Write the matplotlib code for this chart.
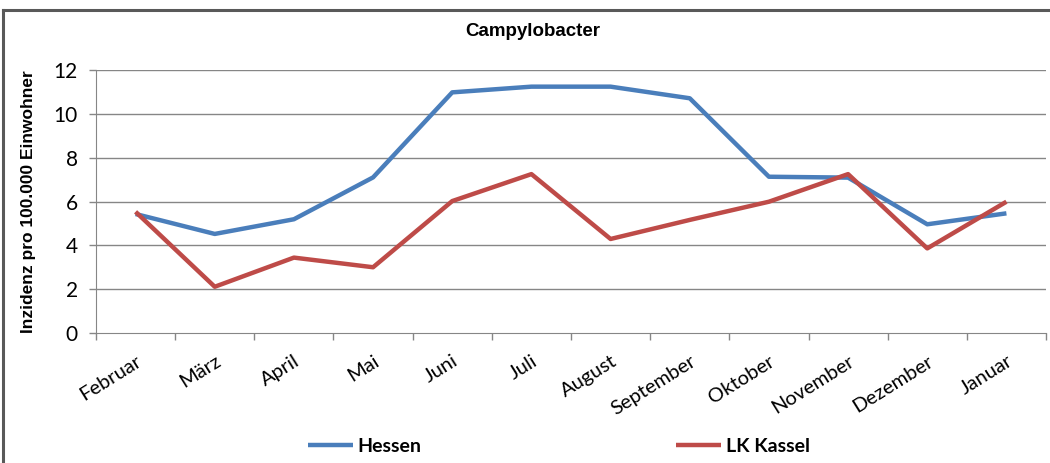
import numpy as np
import matplotlib.pyplot as plt
from matplotlib.ticker import FixedLocator, NullFormatter

months = ["Februar", "März", "April", "Mai", "Juni", "Juli", "August",
          "September", "Oktober", "November", "Dezember", "Januar"]
hessen = [5.43, 4.52, 5.19, 7.10, 10.98, 11.24, 11.24, 10.71, 7.13, 7.09, 4.96, 5.46]
kassel = [5.53, 2.11, 3.44, 3.00, 6.02, 7.25, 4.29, 5.16, 5.99, 7.25, 3.86, 5.99]
yticks = [0, 2, 4, 6, 8, 10, 12]

blue = "#4A7EBB"
red = "#BE4B48"
grid = "#868686"

fig = plt.figure(figsize=(10.5, 4.63), dpi=100)
ax = fig.add_axes([96/1050, 1-333/463, 950/1050, 263/463])

x = np.arange(len(months))
l1, = ax.plot(x, hessen, color=blue, lw=3.2, solid_capstyle="butt", label="Hessen")
l2, = ax.plot(x, kassel, color=red, lw=3.2, solid_capstyle="butt", label="LK Kassel")

ax.set_xlim(-0.5, len(months) - 0.5)
ax.set_ylim(0, 12)
ax.set_yticks(yticks)
ax.set_yticklabels([str(v) for v in yticks], fontfamily="Lato", fontsize=15)
for v in yticks[1:]:
    ax.axhline(v, color=grid, lw=1, zorder=0)

ax.set_xticks(x)
ax.set_xticklabels(months, rotation=32, ha="right", rotation_mode="anchor",
                   fontfamily="Lato", fontsize=14.5)
ax.tick_params(axis="x", which="major", length=0, pad=14)
ax.xaxis.set_minor_locator(FixedLocator(np.arange(-0.5, len(months), 1.0)))
ax.xaxis.set_minor_formatter(NullFormatter())
ax.tick_params(axis="x", which="minor", length=5, color=grid, width=1)
ax.tick_params(axis="y", length=5, color=grid, width=1, pad=8)

for s in ["top", "right"]:
    ax.spines[s].set_visible(False)
ax.spines["left"].set_color(grid)
ax.spines["bottom"].set_color(grid)

ax.set_ylabel("Inzidenz pro 100.000 Einwohner", fontfamily="Liberation Sans",
              fontweight="bold", fontsize=12.5, labelpad=13)
fig.text(533/1050, 1-31/463, "Campylobacter", ha="center", va="center",
         fontfamily="Liberation Sans", fontweight="bold", fontsize=13.5)

# outer border (top and left only)
fig.add_artist(plt.Line2D([3/1050, 1], [1-10/463, 1-10/463], color="#595959", lw=2.2,
                          transform=fig.transFigure))
fig.add_artist(plt.Line2D([3/1050, 3/1050], [0, 1-10/463], color="#595959", lw=2.2,
                          transform=fig.transFigure))

for h, xpos in [(l1, 308), (l2, 676)]:
    fig.legend(handles=[h], loc="center left", bbox_to_anchor=(xpos/1050, 1-446/463),
               frameon=False, borderpad=0, borderaxespad=0, handlelength=2.3,
               handletextpad=0.25, prop={"family": "Lato", "weight": "bold", "size": 14})

fig.savefig("out.png", dpi=100)
